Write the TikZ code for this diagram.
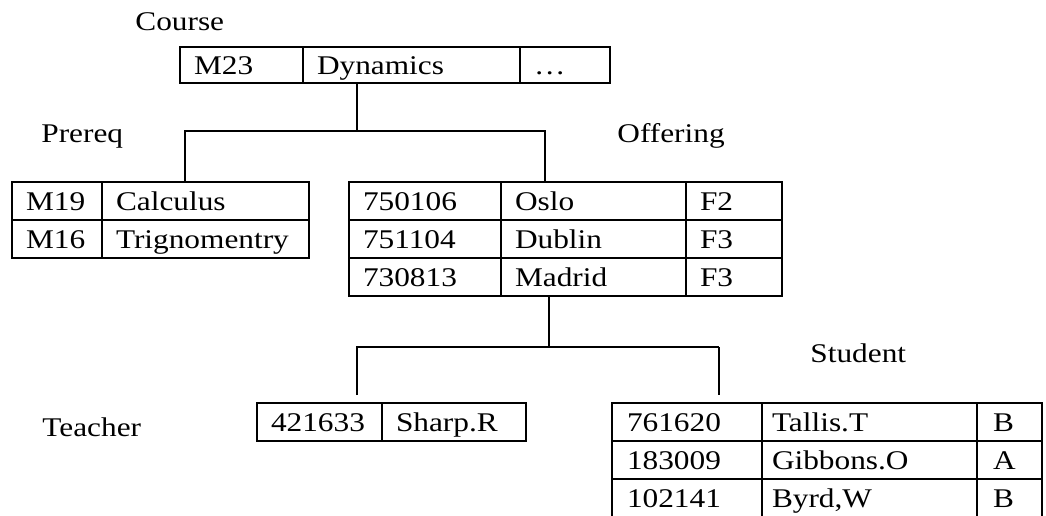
\documentclass[tikz,border=0pt]{standalone}
\usepackage{fontspec}
\setmainfont{Liberation Serif}[FakeStretch=1.16]
\usetikzlibrary{positioning}

\begin{document}
\begin{tikzpicture}[x=0.5pt,y=-0.5pt,font=\fontsize{13.5}{16}\selectfont,
  cell/.style={draw,line width=1.1pt,outer sep=0pt,inner ysep=0pt,inner xsep=7pt,minimum height=19pt,
    text height=10pt,text depth=1pt,align=left,text width=#1,anchor=north west},
  link/.style={line width=0.7pt},
  title/.style={anchor=base west,inner sep=0pt}]
\useasboundingbox (0,0) rectangle (1046,515);
% relation names
\node[title] (tCourse) at (135,30) {Course};
\node[title] (tPrereq) at (41,142) {Prereq};
\node[title] (tOffer) at (617,142) {Offering};
\node[title] (tStud) at (810,362) {Student};
\node[title] (tTeach) at (42,436) {Teacher};
% Course
\node[cell=47.5pt,minimum height=18pt] (c1) at (180,47) {M23};
\node[cell=94.5pt,minimum height=18pt,right=0pt of c1] (c2) {Dynamics};
\node[cell=31pt,minimum height=18pt,right=0pt of c2] (c3) {…};
% Prereq
\node[cell=31pt] (p11) at (12,182) {M19};
\node[cell=89.5pt,right=0pt of p11] (p12) {Calculus};
\node[cell=31pt,below=0pt of p11] (p21) {M16};
\node[cell=89.5pt,right=0pt of p21] (p22) {Trignomentry};
% Offering
\node[cell=62pt] (o11) at (349,182) {750106};
\node[cell=78.5pt,right=0pt of o11] (o12) {Oslo};
\node[cell=34pt,right=0pt of o12] (o13) {F2};
\node[cell=62pt,below=0pt of o11] (o21) {751104};
\node[cell=78.5pt,right=0pt of o21] (o22) {Dublin};
\node[cell=34pt,right=0pt of o22] (o23) {F3};
\node[cell=62pt,below=0pt of o21] (o31) {730813};
\node[cell=78.5pt,right=0pt of o31] (o32) {Madrid};
\node[cell=34pt,right=0pt of o32] (o33) {F3};
% Teacher
\node[cell=48.5pt] (t1) at (257,403) {421633};
\node[cell=58pt,right=0pt of t1] (t2) {Sharp.R};
% Student
\node[cell=60pt,inner xsep=7.5pt] (s11) at (612,403) {761620};
\node[cell=97.5pt,inner xsep=5pt,right=0pt of s11] (s12) {Tallis.T};
\node[cell=16.5pt,inner xsep=8pt,right=0pt of s12] (s13) {B};
\node[cell=60pt,inner xsep=7.5pt,below=0pt of s11] (s21) {183009};
\node[cell=97.5pt,inner xsep=5pt,right=0pt of s21] (s22) {Gibbons.O};
\node[cell=16.5pt,inner xsep=8pt,right=0pt of s22] (s23) {A};
\node[cell=60pt,inner xsep=7.5pt,below=0pt of s21] (s31) {102141};
\node[cell=97.5pt,inner xsep=5pt,right=0pt of s31] (s32) {Byrd,W};
\node[cell=16.5pt,inner xsep=8pt,right=0pt of s32] (s33) {B};
% tree links
\coordinate (hubA) at (357,131);
\coordinate (legP) at (185,131);
\coordinate (legO) at (545,131);
\draw[link] (c2.south -| hubA) -- (hubA);
\draw[link] (legP |- p12.north) -- (legP) -- (legO) -- (legO |- o12.north);
\coordinate (hubB) at (549,347);
\coordinate (legT) at (357,347);
\coordinate (legS) at (719,347);
\draw[link] (o32.south -| hubB) -- (hubB);
\draw[link,shorten <=4pt] (legT |- t1.north) -- (legT) -- (legS);
\draw[link,shorten >=4pt] (legS) -- (legS |- s11.north);
\end{tikzpicture}
\end{document}
